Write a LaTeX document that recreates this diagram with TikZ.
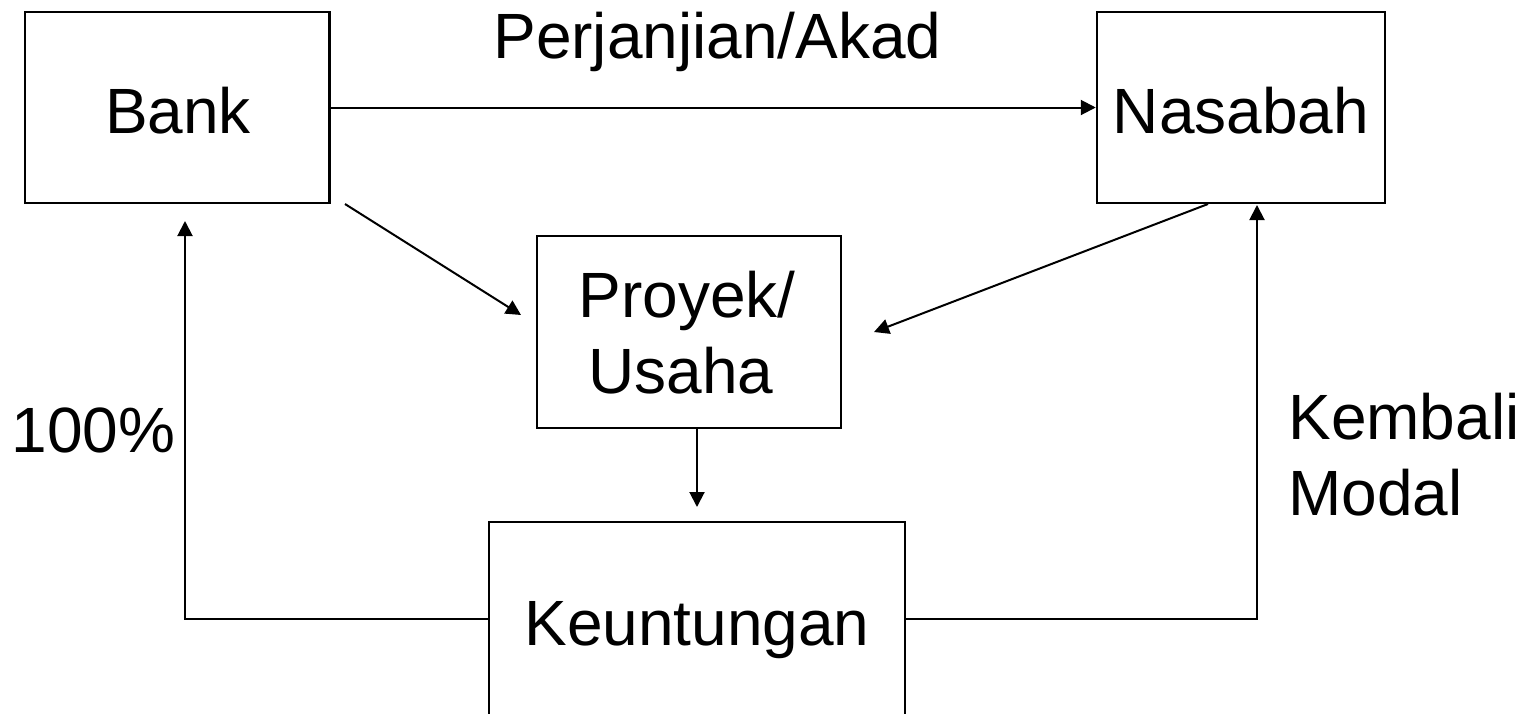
\documentclass[tikz,border=0pt]{standalone}
\usepackage{fontspec}
\setmainfont{Liberation Sans}
\usetikzlibrary{arrows.meta,calc}
\begin{document}
\begin{tikzpicture}[x=0.5pt,y=-0.5pt,
  box/.style={draw,line width=1.25pt,inner sep=0pt,minimum width=#1},
  lbl/.style={font=\fontsize{32pt}{38pt}\selectfont,inner sep=0pt,anchor=base},
  flow/.style={line width=1pt,-{Triangle[length=7.5pt,width=7.5pt]}}]
\useasboundingbox (0,0) rectangle (1538,713);

% boxes
\node[box=152.25pt,minimum height=95.5pt] (bank) at (177,107.5) {};
\node[box=144pt,minimum height=95.5pt] (nasabah) at (1241,107.5) {};
\node[box=152pt,minimum height=96pt] (proyek) at (689,332) {};
\node[box=208pt,minimum height=97pt] (keun) at (697,619) {};

% box texts
\node[lbl] (tbank) at (178,133) {Bank};
\node[lbl] (tnasabah) at (1241,133) {Nasabah};
\node[lbl] (tproyek) at (687,317) {Proyek/};
\node[lbl] (tusaha) at (681,393) {Usaha};
\node[lbl] (tkeun) at (697,645) {Keuntungan};

% free labels
\node[lbl] (takad) at (717.5,58) {Perjanjian/Akad};
\node[lbl] (tpct) at (93.5,452) {100\%};
\node[lbl,anchor=base west] (tkembali) at (1288,439) {Kembali};
\node[lbl,anchor=base west] (tmodal) at (1288,515) {Modal};

% free arrow ends and corners
\coordinate (bankout) at (345,204);
\coordinate (proyekinL) at (521,315);
\coordinate (nasout) at (1208,204);
\coordinate (proyekinR) at (874,332);
\coordinate (keunin) at (697,507);
\coordinate (bankin) at (185,221);
\coordinate (nasin) at (1257,205);

% connectors
\draw[flow] (bank.east) -- (nasabah.west);
\draw[flow] (bankout) -- (proyekinL);
\draw[flow] (nasout) -- (proyekinR);
\draw[flow] (proyek.south -| keun.north) -- (keunin);
\draw[flow] (keun.west) -| (bankin);
\draw[flow] (keun.east) -| (nasin);
\end{tikzpicture}
\end{document}
